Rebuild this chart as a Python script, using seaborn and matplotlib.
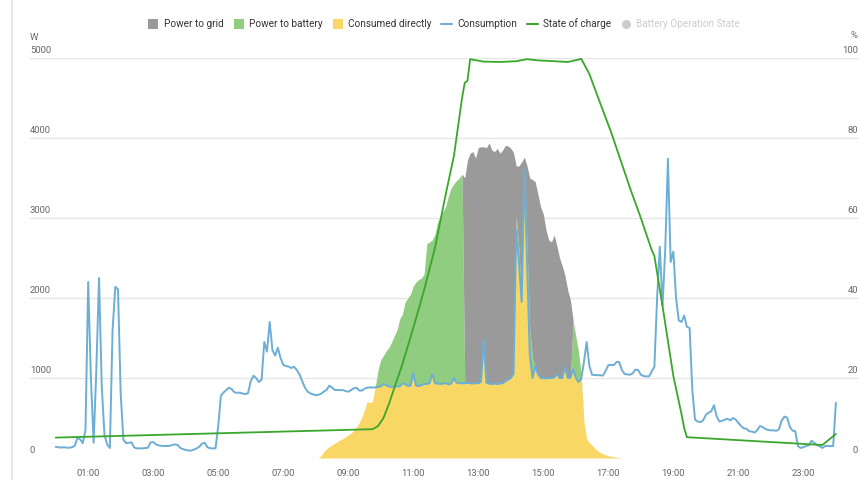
import numpy as np
import pandas as pd
import matplotlib
matplotlib.use("Agg")
import matplotlib.pyplot as plt
import matplotlib.transforms as mtransforms
from matplotlib.lines import Line2D
import seaborn as sns

#Data

# household consumption, one reading every 5 minutes from 00:00 to 24:00 (W)
consumption = [
    140, 135, 130, 135, 130, 128, 135, 150, 250, 235, 185, 350,
    2200, 1000, 190, 1100, 2250, 900, 290, 170, 125, 1600, 2140, 2110,
    800, 230, 185, 190, 196, 130, 120, 120, 121, 125, 128, 195,
    200, 170, 158, 152, 150, 150, 152, 162, 170, 165, 125, 112,
    100, 95, 92, 105, 120, 140, 180, 190, 135, 122, 120, 121,
    400, 780, 820, 850, 880, 860, 820, 815, 817, 805, 800, 810,
    960, 1029, 1000, 950, 975, 1450, 1330, 1700, 1350, 1280, 1380, 1250,
    1165, 1150, 1142, 1125, 1140, 1100, 1045, 960, 880, 830, 808, 795,
    787, 790, 805, 830, 850, 905, 880, 850, 850, 848, 850, 835,
    829, 850, 870, 879, 845, 842, 865, 880, 883, 880, 883, 890,
    895, 925, 910, 892, 890, 892, 895, 895, 933, 925, 900, 905,
    1060, 905, 900, 910, 925, 925, 935, 1050, 935, 930, 925, 930,
    935, 920, 930, 1000, 940, 935, 935, 935, 940, 935, 930, 935,
    935, 950, 1475, 940, 930, 925, 930, 925, 930, 935, 960, 980,
    1000, 1050, 2850, 2450, 1950, 3600, 2430, 1300, 1000, 1150, 1050, 1000,
    1000, 995, 1000, 1000, 1005, 1050, 1000, 1000, 1140, 1000, 1000, 1110,
    1000, 950, 990, 1200, 1450, 1150, 1040, 1037, 1035, 1035, 1030, 1090,
    1160, 1165, 1160, 1200, 1200, 1100, 1050, 1045, 1040, 1060, 1105, 1100,
    1040, 1025, 1020, 1020, 1080, 1140, 2000, 2640, 1900, 2600, 3740, 2450,
    2580, 2000, 1720, 1700, 1780, 1640, 1625, 850, 480, 455, 450, 470,
    540, 565, 585, 660, 520, 455, 465, 480, 490, 470, 500, 480,
    440, 400, 371, 365, 335, 330, 318, 350, 400, 385, 362, 350,
    346, 346, 340, 360, 470, 517, 505, 390, 342, 335, 150, 125,
    135, 150, 158, 215, 190, 160, 150, 125, 150, 150, 150, 150,
    690,
]

# pv production, 5 minute steps starting 08:00 (W)
pv_start = "08:00"
pv_power = [
    0, 0, 30, 80, 115, 140, 165, 185, 205, 225, 245, 265,
    290, 310, 345, 385, 440, 510, 600, 710, 690, 710, 900, 1100,
    1230, 1280, 1340, 1380, 1450, 1530, 1600, 1740, 1800, 1950, 2000, 2050,
    2150, 2200, 2230, 2250, 2300, 2680, 2700, 2725, 2800, 2950, 3020, 3080,
    3150, 3280, 3380, 3430, 3470, 3500, 3550, 3500, 3725, 3810, 3830, 3750,
    3880, 3890, 3890, 3880, 3940, 3850, 3830, 3870, 3810, 3850, 3910, 3900,
    3870, 3820, 3650, 3650, 3700, 3760, 3650, 3500, 3480, 3454, 3300, 3140,
    3050, 2850, 2725, 2700, 2787, 2654, 2500, 2400, 2280, 2100, 1975, 1720,
    1520, 1330, 1050, 450, 240, 190, 160, 120, 95, 70, 50, 40,
    30, 22, 15, 10, 5, 0,
]

# feed-in to the grid once the battery is full, 5 minute steps from 12:35 (W)
grid_start = "12:35"
to_grid = [
    2565, 2785, 2875, 2900, 2815,
    2945, 2940, 2415, 2940, 3010, 2925, 2900, 2945, 2880, 2915, 2950, 2920,
    2870, 2770, 630, 1050, 1750, 160, 1020, 1900, 2230, 2304, 2250, 2140,
    2050, 1855, 1725, 1700, 1782, 1604, 1500, 1400, 1140, 1100, 975,
]

# battery state of charge (%)
soc_times = ["00:00", "09:45", "09:55", "10:05", "10:15", "10:25", "10:40", "11:00",
             "11:20", "11:40", "12:00", "12:15", "12:30", "12:35", "12:40", "12:45",
             "13:10", "13:40", "14:10", "14:30", "14:50", "15:20", "15:45", "16:05",
             "16:10", "16:25", "16:45", "17:05", "17:20", "17:40", "18:00", "18:20",
             "18:25", "18:40", "19:00", "19:15", "19:20", "19:25", "23:35", "24:00"]
soc_values = [5.1, 7.2, 8.0, 10.0, 13.5, 17.5, 23.5, 32.5,
              42.0, 52.5, 66.0, 75.5, 90.0, 93.8, 94.3, 99.7,
              99.1, 99.0, 99.2, 99.7, 99.4, 99.2, 99.0, 99.6,
              99.8, 96.0, 88.7, 81.5, 75.5, 67.5, 60.0, 52.0,
              50.5, 38.0, 20.5, 11.0, 7.5, 5.2, 3.25, 6.0]

hour_ticks = [1, 3, 5, 7, 9, 11, 13, 15, 17, 19, 21, 23]
hour_labels = ["01:00", "03:00", "05:00", "07:00", "09:00", "11:00",
               "13:00", "15:00", "17:00", "19:00", "21:00", "23:00"]
watt_ticks = [0, 1000, 2000, 3000, 4000, 5000]
pct_ticks = [0, 20, 40, 60, 80, 100]
legend_labels = ["Power to grid", "Power to battery", "Consumed directly",
                 "Consumption", "State of charge", "Battery Operation State"]

#Colours
c_grid = "#9a9a9a"
c_batt = "#91cd80"
c_direct = "#f9d764"
c_cons = "#6caed4"
c_soc = "#3aa62b"
c_text = "#666666"
c_line = "#e6e6e6"
tick_size = 6.8


def to_hours(hhmm):
    h, m = hhmm.split(":")
    return int(h) + int(m) / 60


#Build table
df = pd.DataFrame({"consumption": consumption})
df["hour"] = df.index * 5 / 60
df["pv"] = 0.0
i0 = int(round(to_hours(pv_start) * 12))
df.loc[i0:i0 + len(pv_power) - 1, "pv"] = pv_power
df["grid"] = 0.0
g0 = int(round(to_hours(grid_start) * 12))
df.loc[g0:g0 + len(to_grid) - 1, "grid"] = to_grid

df["direct"] = np.minimum(df["pv"], df["consumption"])
surplus = df["pv"] - df["direct"]
df["grid"] = np.minimum(df["grid"], surplus)
df["battery"] = surplus - df["grid"]

soc = pd.DataFrame({"hour": [to_hours(t) for t in soc_times], "soc": soc_values})

#Plot
sns.set_style("white")
plt.rcParams["font.family"] = ["Roboto", "DejaVu Sans"]

fig = plt.figure(figsize=(8.6, 4.8), dpi=100)
ax = fig.add_axes([30 / 860, 1 - 458 / 480, 828 / 860, 400 / 480])

h = df["hour"]
ax.fill_between(h, 0, df["direct"], color=c_direct, lw=0, zorder=1)
ax.fill_between(h, df["direct"], df["direct"] + df["battery"], color=c_batt, lw=0, zorder=1)
ax.fill_between(h, df["direct"] + df["battery"], df["pv"], color=c_grid, lw=0, zorder=1)
sns.lineplot(data=df, x="hour", y="consumption", ax=ax, color=c_cons, lw=1.4, zorder=3)

ax.set_xlim(-0.79, 24.68)
ax.set_ylim(0, 5000)
ax.set_xticks(hour_ticks, hour_labels)
ax.set_yticks(watt_ticks)
ax.set_yticklabels([])
ax.tick_params(axis="y", length=0)
ax.tick_params(axis="x", length=5, width=1, color=c_line, labelcolor=c_text,
               labelsize=tick_size, pad=3)
ax.grid(axis="y", color=c_line, lw=1)
ax.set_axisbelow(True)
ax.set_xlabel("")
ax.set_ylabel("")
for s in ax.spines.values():
    s.set_visible(False)

ax2 = ax.twinx()
sns.lineplot(data=soc, x="hour", y="soc", ax=ax2, color=c_soc, lw=1.3)
ax2.set_ylim(0, 100)
ax2.set_yticks(pct_ticks)
ax2.set_yticklabels([])
ax2.tick_params(axis="y", length=0)
ax2.grid(False)
ax2.set_ylabel("")
for s in ax2.spines.values():
    s.set_visible(False)

# axis labels sit just above their grid lines, inside the plot area
lift = mtransforms.ScaledTranslation(0, 2 / 72, fig.dpi_scale_trans)
left_tr = mtransforms.blended_transform_factory(ax.transAxes, ax.transData) + lift
right_tr = mtransforms.blended_transform_factory(ax2.transAxes, ax2.transData) + lift
for v in watt_ticks:
    ax.text(0, v, str(v), transform=left_tr, ha="left", va="bottom", fontsize=tick_size, color=c_text)
for v in pct_ticks:
    ax2.text(1, v, str(v), transform=right_tr, ha="right", va="bottom", fontsize=tick_size, color=c_text)

fig.text(30 / 860, 1 - 37 / 480, "W", ha="left", va="center", fontsize=tick_size, color=c_text)
fig.text(857 / 860, 1 - 36 / 480, "%", ha="right", va="center", fontsize=tick_size, color=c_text)

# panel border on the left
fig.add_artist(Line2D([12 / 860, 12 / 860], [0, 1], transform=fig.transFigure, color=c_line, lw=1.5))

#Legend
handles = [
    Line2D([], [], marker="s", ls="none", ms=6.5, mfc=c_grid, mew=0),
    Line2D([], [], marker="s", ls="none", ms=6.5, mfc=c_batt, mew=0),
    Line2D([], [], marker="s", ls="none", ms=6.5, mfc=c_direct, mew=0),
    Line2D([], [], color=c_cons, lw=1.5),
    Line2D([], [], color=c_soc, lw=1.5),
    Line2D([], [], marker="o", ls="none", ms=6.5, mfc="#cccccc", mew=0),
]
leg = fig.legend(handles, legend_labels, loc="center", bbox_to_anchor=(444 / 860, 1 - 24 / 480),
                 ncol=6, frameon=False, fontsize=7.2, handlelength=1.1, handletextpad=0.5,
                 columnspacing=0.95)
for t in leg.get_texts():
    t.set_color("#333333")
leg.get_texts()[-1].set_color("#cccccc")

fig.savefig("out.png", dpi=100)
